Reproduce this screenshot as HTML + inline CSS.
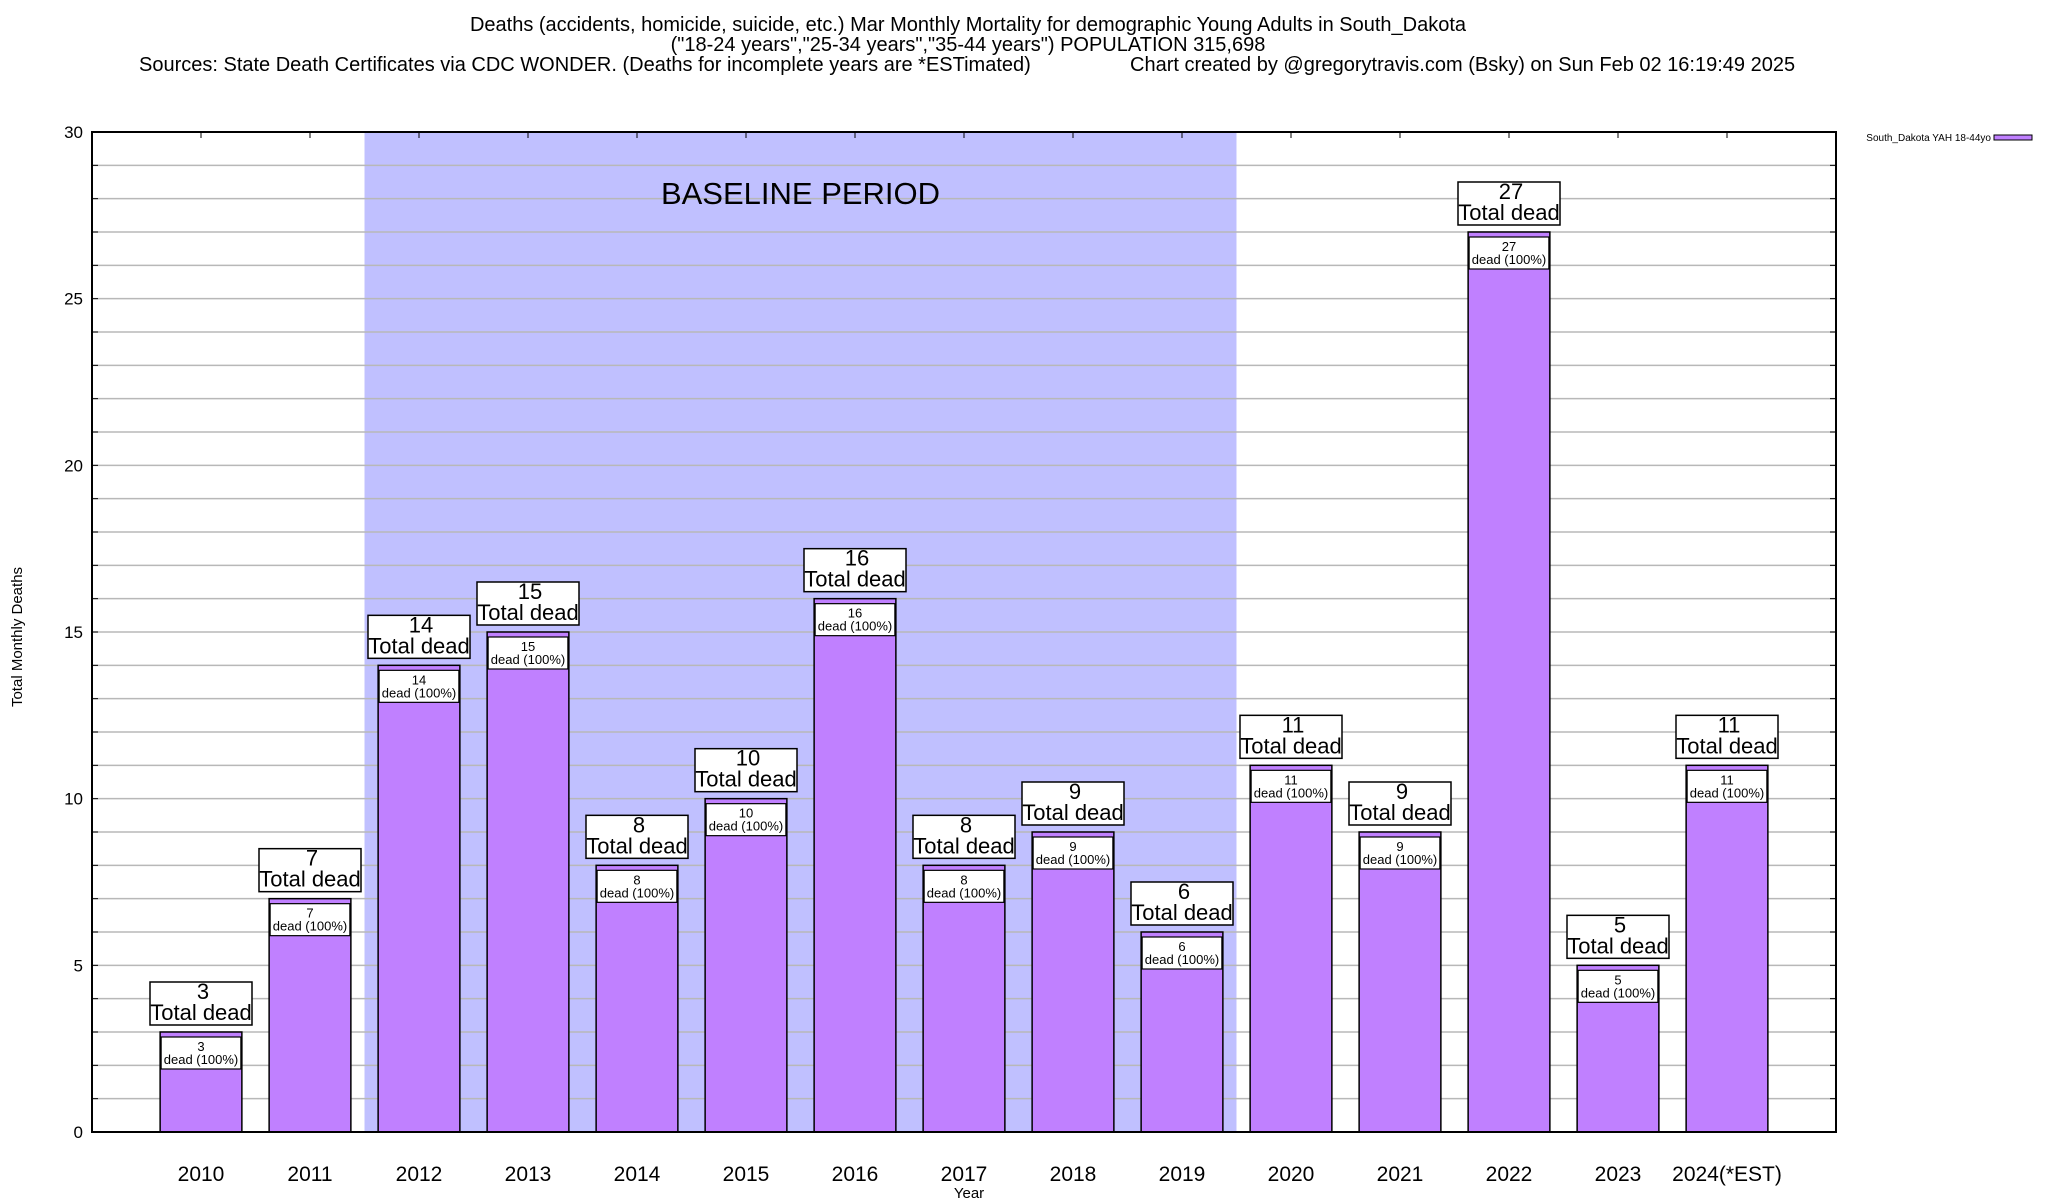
<!DOCTYPE html>
<html><head><meta charset="utf-8"><style>
body{margin:0;background:#fff;}
svg{display:block;font-family:"Liberation Sans",Arial,sans-serif;}
</style></head><body>
<svg id="chart" width="2048" height="1200" viewBox="0 0 2048 1200" xmlns="http://www.w3.org/2000/svg">
<g font-size="20" fill="#000">
<text x="968" y="31" text-anchor="middle">Deaths (accidents, homicide, suicide, etc.) Mar Monthly Mortality for demographic Young Adults in South_Dakota</text>
<text x="968" y="51" text-anchor="middle">("18-24 years","25-34 years","35-44 years") POPULATION 315,698</text>
<text x="139" y="71">Sources: State Death Certificates via CDC WONDER. (Deaths for incomplete years are *ESTimated)</text>
<text x="1130" y="71">Chart created by @gregorytravis.com (Bsky) on Sun Feb 02 16:19:49 2025</text>
</g>
<g id="plot"></g>
<text transform="translate(22,637) rotate(-90)" text-anchor="middle" font-size="15">Total Monthly Deaths</text>
<text x="969" y="1198" text-anchor="middle" font-size="15">Year</text>
<g>
<text x="1991" y="141" text-anchor="end" font-size="10">South_Dakota YAH 18-44yo</text>
<rect x="1994" y="135" width="38" height="5" fill="#c080ff" stroke="#000" stroke-width="1"/>
</g>
</svg>
<script>
const categories=["2010","2011","2012","2013","2014","2015","2016","2017","2018","2019","2020","2021","2022","2023","2024(*EST)"];
const deaths=[3,7,14,15,8,10,16,8,9,6,11,9,27,5,11];
const yTicks=[0,5,10,15,20,25,30];
const baselineStart=1.5, baselineEnd=9.5;
const L=92,R=1836,T=132,B=1132,yMax=30;
const NS="http://www.w3.org/2000/svg";
const g=document.getElementById('plot');
function xs(i){return L+(i+1)*(R-L)/(categories.length+1);}
function ys(v){return B-v*(B-T)/yMax;}
function el(tag,attrs,parent){const e=document.createElementNS(NS,tag);for(const k in attrs)e.setAttribute(k,attrs[k]);(parent||g).appendChild(e);return e;}
function txt(x,y,s,size,anchor,parent){const t=el('text',{x:x,y:y,'font-size':size,'text-anchor':anchor||'middle'},parent);t.textContent=s;return t;}
const sh=el('rect',{x:xs(baselineStart),y:T,width:xs(baselineEnd)-xs(baselineStart),height:B-T,fill:'#c0c0ff'});


for(let v=1;v<yMax;v++){
  const l=el('line',{x1:L,x2:R,y1:ys(v),y2:ys(v),stroke:'#b8b8b8','stroke-width':1.5});
  
  
  el('line',{x1:L,x2:L+6,y1:ys(v),y2:ys(v),stroke:'#000'});
  el('line',{x1:R-6,x2:R,y1:ys(v),y2:ys(v),stroke:'#000'});
}
const bt=txt((xs(baselineStart)+xs(baselineEnd))/2,204,'BASELINE PERIOD',31);


yTicks.forEach(v=>{
  const t=txt(83,ys(v)+6,String(v),17,'end');
  
  
});
const bw=0.75*(R-L)/(categories.length+1);
categories.forEach((c,i)=>{
  const cx=xs(i),v=deaths[i],top=ys(v);
  el('line',{x1:cx,x2:cx,y1:T,y2:T+6,stroke:'#000'});
  el('line',{x1:cx,x2:cx,y1:B,y2:B-6,stroke:'#000'});
  const bar=el('rect',{x:cx-bw/2,y:top,width:bw,height:B-top,fill:'#c080ff',stroke:'#000','stroke-width':1.5});
  
  
  const ib=el('rect',{x:cx-bw/2+1,y:top+5,width:bw-2,height:32,fill:'#fff',stroke:'#000','stroke-width':1.2});
  
  
  txt(cx,top+19,String(v),13);
  txt(cx,top+32,'dead (100%)',13);
  const ob=el('rect',{x:cx-51,y:top-50,width:102,height:43,fill:'#fff',stroke:'#000','stroke-width':1.5});
  
  
  txt(cx+2,top-33,String(v),22);
  txt(cx,top-12,'Total dead',22);
  const xl=txt(cx,1181,c,21);
  
  
});
const fr=el('rect',{x:L,y:T,width:R-L,height:B-T,fill:'none',stroke:'#000','stroke-width':2});


</script>
</body></html>
